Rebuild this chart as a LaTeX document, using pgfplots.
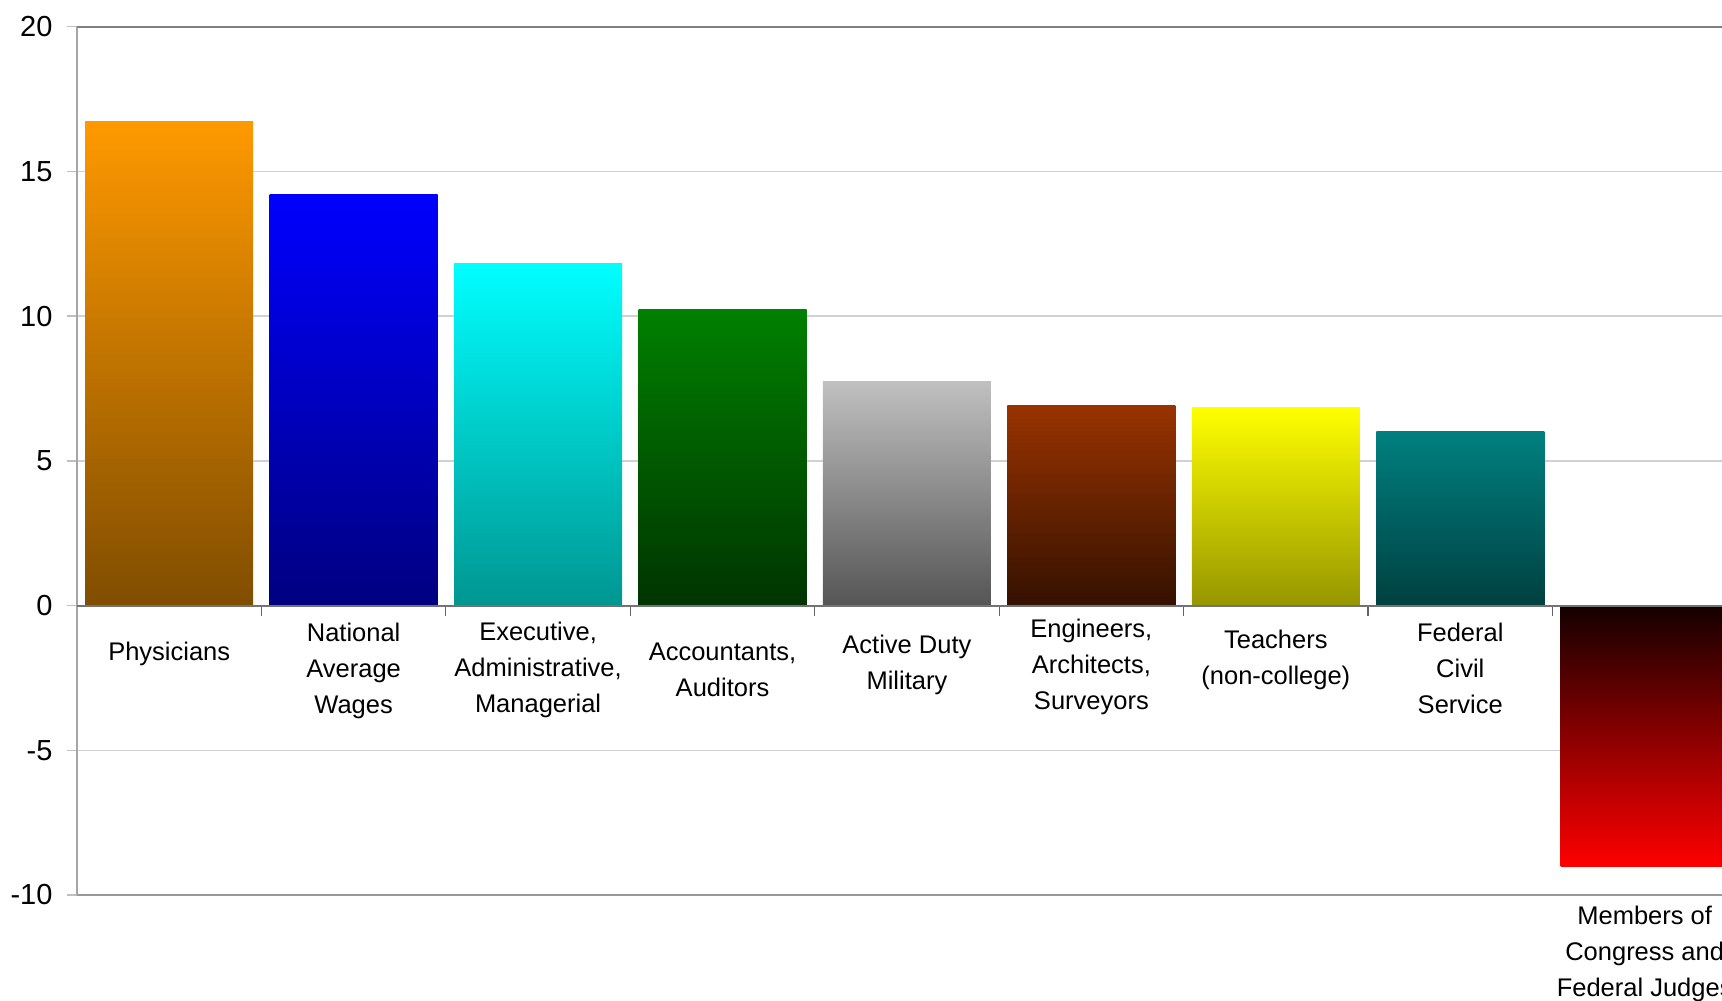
\documentclass[border=0pt]{standalone}
\usepackage{pgfplots}
\pgfplotsset{compat=1.18}
\usepackage{fontspec}
\setmainfont{Liberation Sans}
\newcommand{\lab}[2]{\raisebox{#1}[0pt][0pt]{\begin{tabular}[c]{@{}c@{}}#2\end{tabular}}}
\definecolor{c1t}{RGB}{255,153,0}\definecolor{c1b}{RGB}{128,77,0}
\definecolor{c2t}{RGB}{0,0,255}\definecolor{c2b}{RGB}{0,0,128}
\definecolor{c3t}{RGB}{0,255,255}\definecolor{c3b}{RGB}{0,150,145}
\definecolor{c4t}{RGB}{0,128,0}\definecolor{c4b}{RGB}{0,52,0}
\definecolor{c5t}{RGB}{192,192,192}\definecolor{c5b}{RGB}{85,85,85}
\definecolor{c6t}{RGB}{153,51,0}\definecolor{c6b}{RGB}{52,17,0}
\definecolor{c7t}{RGB}{255,255,0}\definecolor{c7b}{RGB}{150,150,0}
\definecolor{c8t}{RGB}{0,128,128}\definecolor{c8b}{RGB}{0,64,64}
\definecolor{c9t}{RGB}{20,0,0}\definecolor{c9b}{RGB}{255,0,0}
\begin{document}
\begin{tikzpicture}
\begin{axis}[
  scale only axis, width=1660pt, height=868.3pt,
  xmin=-0.5, xmax=8.5, ymin=-10, ymax=20,
  clip mode=individual,
  axis x line=middle, axis y line=left, axis line style={-},
  x axis line style={draw=black!55, line width=2pt},
  y axis line style={draw=black!35, line width=2pt},
  ytick={-10,-5,0,5,10,15,20}, yticklabels={-10,-5,0,5,10,15,20},
  ytick align=outside, xtick align=outside,
  major tick length=10pt, minor tick length=10pt,
  ytick style={draw=black!25, line width=1.5pt},
  ymajorgrids, major grid style={draw=black!18, line width=1.5pt},
  xtick={0,...,8}, xtick style={draw=none},
  minor xtick={-0.5,0.5,...,8.5},
  minor x tick style={draw=black!60, line width=1.2pt},
  yticklabel style={font=\fontsize{29}{33}\selectfont, anchor=east, xshift=-11pt},
  xticklabel style={font=\fontsize{25.5}{36}\selectfont, anchor=center, inner sep=0pt},
  xticklabels={
    {\lab{-44pt}{Physicians}},
    {\lab{-61pt}{National\\Average\\Wages}},
    {\lab{-60pt}{Executive,\\Administrative,\\Managerial}},
    {\lab{-62pt}{Accountants,\\Auditors}},
    {\lab{-55pt}{Active Duty\\Military}},
    {\lab{-57pt}{Engineers,\\Architects,\\Surveyors}},
    {\lab{-50pt}{Teachers\\(non-college)}},
    {\lab{-61pt}{Federal\\Civil\\Service}},
    {\lab{-344pt}{Members of\\Congress and\\Federal Judges}}
  },
]
\addplot[ybar, bar width=168pt, bar shift=0pt, draw=none, top color=c1t, bottom color=c1b] coordinates {(0,16.74)};
\addplot[ybar, bar width=168pt, bar shift=0pt, draw=none, top color=c2t, bottom color=c2b] coordinates {(1,14.2)};
\addplot[ybar, bar width=168pt, bar shift=0pt, draw=none, top color=c3t, bottom color=c3b] coordinates {(2,11.83)};
\addplot[ybar, bar width=168pt, bar shift=0pt, draw=none, top color=c4t, bottom color=c4b] coordinates {(3,10.24)};
\addplot[ybar, bar width=168pt, bar shift=0pt, draw=none, top color=c5t, bottom color=c5b] coordinates {(4,7.74)};
\addplot[ybar, bar width=168pt, bar shift=0pt, draw=none, top color=c6t, bottom color=c6b] coordinates {(5,6.90)};
\addplot[ybar, bar width=168pt, bar shift=0pt, draw=none, top color=c7t, bottom color=c7b] coordinates {(6,6.86)};
\addplot[ybar, bar width=168pt, bar shift=0pt, draw=none, top color=c8t, bottom color=c8b] coordinates {(7,6.03)};
\addplot[ybar, bar width=168pt, bar shift=0pt, draw=none, top color=c9t, bottom color=c9b] coordinates {(8,-9.02)};
\draw[black!50, line width=2pt] (rel axis cs:0,1) -- (rel axis cs:1,1);
\draw[black!40, line width=2.5pt] (rel axis cs:0,0) -- (rel axis cs:1,0);
\draw[black!55, line width=2pt] (axis cs:-0.5,0) -- (axis cs:8.5,0);
\coordinate (O) at (rel axis cs:0,0);
\end{axis}
\pgfresetboundingbox
\path[use as bounding box] ([xshift=-77pt,yshift=-106pt]O) rectangle ++(1722pt,1001pt);
\end{tikzpicture}
\end{document}
